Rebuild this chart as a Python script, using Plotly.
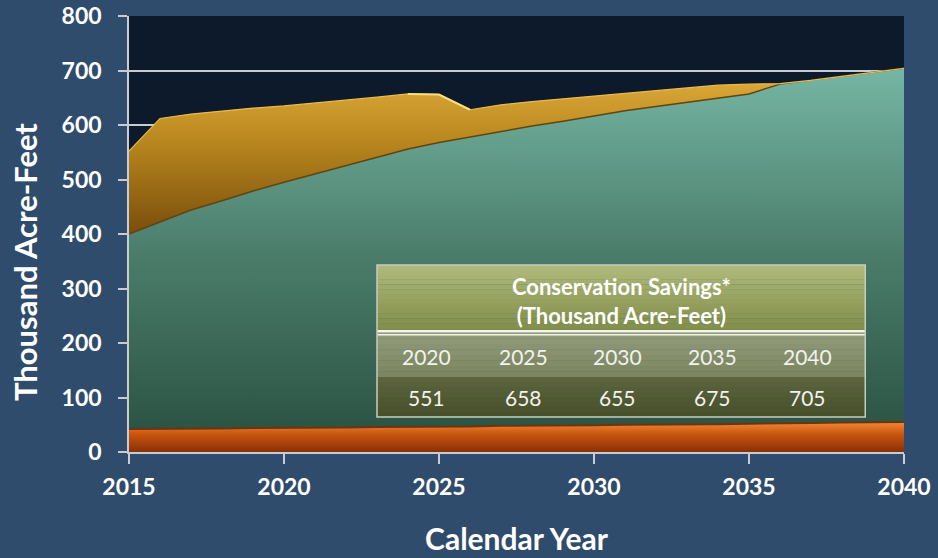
import plotly.graph_objects as go

# Calendar years 2015-2040
years = list(range(2015, 2041))

# Upper edge of each stacked band (thousand acre-feet)
base_top = [42, 42, 43, 43, 44, 44, 45, 45, 46, 46, 47, 47, 48, 48, 49,
            49, 50, 50, 51, 51, 52, 52, 53, 54, 54, 55]
middle_top = [400, 422, 444, 461, 479, 495, 510, 526, 541, 556, 568, 578, 589,
              598, 607, 617, 626, 634, 642, 650, 657, 675, 682, 689, 696, 704]
upper_top = [552, 612, 620, 626, 631, 635, 640, 645, 651, 657, 656, 628, 637,
             643, 648, 654, 659, 664, 669, 673, 675, 676, 682, 689, 696, 704]

# Inset table
table_title = ["Conservation Savings*", "(Thousand Acre-Feet)"]
table_years = ["2020", "2025", "2030", "2035", "2040"]
table_values = ["551", "658", "655", "675", "705"]

y_ticks = [0, 100, 200, 300, 400, 500, 600, 700, 800]
x_ticks = [2015, 2020, 2025, 2030, 2035, 2040]

FONT = "Lato"


def mix(c1, c2, t):
    a = [int(c1[i:i + 2], 16) for i in (1, 3, 5)]
    b = [int(c2[i:i + 2], 16) for i in (1, 3, 5)]
    return "rgb(%d,%d,%d)" % tuple(round(a[k] + (b[k] - a[k]) * t) for k in range(3))


def gradient_band(x0, x1, y0, y1, top, bottom, steps=14):
    out = []
    h = (y1 - y0) / steps
    for i in range(steps):
        t = (i + 0.5) / steps
        out.append(dict(type="rect", xref="paper", yref="paper", x0=x0, x1=x1,
                        y0=y1 - (i + 1) * h - 0.0005, y1=y1 - i * h,
                        fillcolor=mix(top, bottom, t), line_width=0, layer="above"))
    return out


fig = go.Figure()

fig.add_trace(go.Scatter(
    x=years, y=[0] * len(years), mode="lines",
    line=dict(width=0, color="rgba(0,0,0,0)"), showlegend=False, hoverinfo="skip"))

fig.add_trace(go.Scatter(
    x=years, y=base_top, mode="lines", fill="tonexty",
    line=dict(width=2, color="#6e3410"),
    fillgradient=dict(type="vertical",
                      colorscale=[[0, "#8a3004"], [0.6, "#c8560e"], [1, "#f48838"]]),
    showlegend=False))

fig.add_trace(go.Scatter(
    x=years, y=middle_top, mode="lines", fill="tonexty",
    line=dict(width=1.5, color="#5e4612"),
    fillgradient=dict(type="vertical",
                      colorscale=[[0, "#2c5444"], [0.5, "#4c7e6c"], [1, "#76b6a4"]]),
    showlegend=False))

fig.add_trace(go.Scatter(
    x=years, y=upper_top, mode="lines", fill="tonexty",
    line=dict(width=1.2, color="#e9bb4c"),
    fillgradient=dict(type="vertical",
                      colorscale=[[0, "#7a4e0c"], [0.55, "#b8861e"], [1, "#e2ae3e"]]),
    showlegend=False))

# highlight along the crest between 2024 and 2026
fig.add_trace(go.Scatter(
    x=years[9:12], y=upper_top[9:12], mode="lines",
    line=dict(width=2, color="#f6e07a"), showlegend=False, hoverinfo="skip"))

# Inset table geometry in paper coordinates
tx0, tx1 = 0.32, 0.95
ty_top, ty_head, ty_mid, ty_bot = 0.429, 0.273, 0.172, 0.080
col_x = [0.3845, 0.5084, 0.6297, 0.7535, 0.8761]

shapes = []
shapes += gradient_band(tx0, tx1, ty_head, ty_top, "#b0ba7c", "#7f8b48")
shapes += gradient_band(tx0, tx1, ty_mid, ty_head, "#929c7c", "#7a845e", steps=8)
shapes += gradient_band(tx0, tx1, ty_bot, ty_mid, "#5c663e", "#464e2a", steps=8)
shapes += [
    dict(type="line", xref="paper", yref="paper", x0=tx0, x1=tx1,
         y0=ty_head + 0.004, y1=ty_head + 0.004, line=dict(color="#f4f4ee", width=2.5), layer="above"),
    dict(type="line", xref="paper", yref="paper", x0=tx0, x1=tx1,
         y0=ty_head - 0.004, y1=ty_head - 0.004, line=dict(color="#f4f4ee", width=1.5), layer="above"),
    dict(type="rect", xref="paper", yref="paper", x0=tx0, x1=tx1,
         y0=ty_bot, y1=ty_top, fillcolor="rgba(0,0,0,0)",
         line=dict(color="#c8ccc0", width=1.5), layer="above"),
]

annotations = [
    # y-axis title, set a little below the plot's vertical centre
    dict(xref="paper", yref="paper", x=-0.134, y=0.436, textangle=-90,
         text="<b>Thousand Acre-Feet</b>", showarrow=False,
         font=dict(family=FONT, size=31, color="white"),
         xanchor="center", yanchor="middle"),
    dict(xref="paper", yref="paper", x=(tx0 + tx1) / 2, y=0.346,
         text="<b>" + table_title[0] + "</b><br><b>" + table_title[1] + "</b>",
         showarrow=False, font=dict(family=FONT, size=22, color="white"),
         xanchor="center", yanchor="middle"),
]
for cx, yr, val in zip(col_x, table_years, table_values):
    annotations.append(dict(xref="paper", yref="paper", x=cx, y=0.218,
                            text=yr, showarrow=False,
                            font=dict(family=FONT, size=21, color="#f2f2ee"),
                            xanchor="center", yanchor="middle"))
    annotations.append(dict(xref="paper", yref="paper", x=cx, y=0.126,
                            text=val, showarrow=False,
                            font=dict(family=FONT, size=21, color="#f2f2ee"),
                            xanchor="center", yanchor="middle"))

fig.update_layout(
    width=938, height=558,
    margin=dict(l=129, r=34, t=16, b=106),
    paper_bgcolor="#2f4c6c",
    plot_bgcolor="#0d1a2b",
    shapes=shapes,
    annotations=annotations,
    xaxis=dict(range=[2015, 2040], tickvals=x_ticks, showgrid=False, automargin=False,
               showline=True, linecolor="#c8ccd2", linewidth=1.5,
               ticks="outside", ticklen=10, tickcolor="#c8ccd2", tickwidth=1.5,
               ticklabelstandoff=4,
               tickfont=dict(family=FONT, size=23, color="white", weight="bold"),
               title=dict(text="<b>Calendar Year</b>", standoff=30,
                          font=dict(family=FONT, size=30, color="white")),
               zeroline=False),
    yaxis=dict(range=[0, 800], tickvals=y_ticks, showgrid=True, automargin=False,
               gridcolor="#c8ccd2", gridwidth=1.5,
               showline=True, linecolor="#c8ccd2", linewidth=1.5,
               ticks="outside", ticklen=9, tickcolor="#c8ccd2", tickwidth=1.5,
               ticklabelstandoff=12,
               tickfont=dict(family=FONT, size=23, color="white", weight="bold"),
               zeroline=False),
)

fig.write_html("out.html")
